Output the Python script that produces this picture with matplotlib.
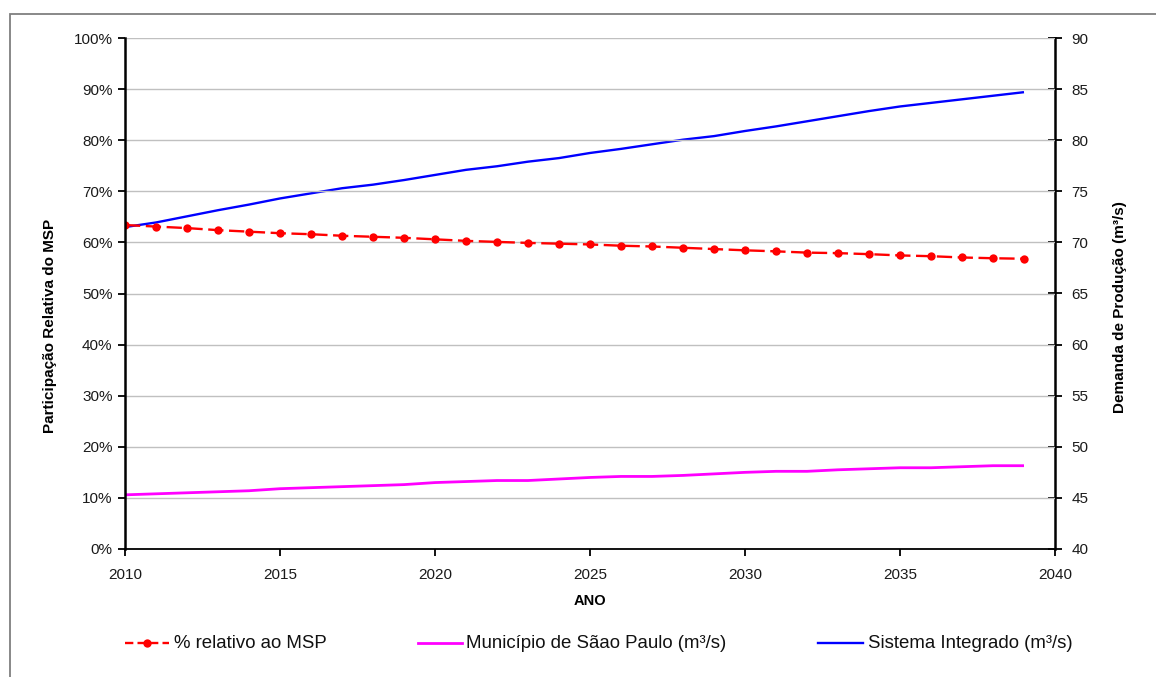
import matplotlib
matplotlib.use("Agg")
import matplotlib.pyplot as plt
from matplotlib.lines import Line2D
from matplotlib.patches import Rectangle
from matplotlib.ticker import FuncFormatter, MultipleLocator

plt.rcParams['font.family'] = ['Liberation Sans', 'DejaVu Sans']
plt.rcParams['lines.scale_dashes'] = False

years = list(range(2010, 2040))

# % relativo ao MSP (share of the municipality in the integrated system)
share_pct = [63.4, 63.1, 62.8, 62.4, 62.1, 61.8, 61.6, 61.3, 61.1, 60.9,
             60.6, 60.3, 60.1, 59.9, 59.75, 59.6, 59.35, 59.2, 58.95, 58.7,
             58.45, 58.25, 58.0, 57.9, 57.7, 57.45, 57.3, 57.05, 56.9, 56.8]

# Município de São Paulo demand (m³/s)
msp_demand = [45.3, 45.4, 45.5, 45.6, 45.7, 45.9, 46.0, 46.1, 46.2, 46.3,
              46.5, 46.6, 46.7, 46.7, 46.85, 47.0, 47.1, 47.1, 47.2, 47.35,
              47.5, 47.6, 47.6, 47.75, 47.85, 47.95, 47.95, 48.05, 48.15, 48.15]

# Sistema Integrado demand (m³/s)
system_demand = [71.5, 71.95, 72.55, 73.15, 73.7, 74.3, 74.8, 75.3, 75.65, 76.1,
                 76.6, 77.1, 77.45, 77.9, 78.25, 78.75, 79.15, 79.6, 80.05, 80.4,
                 80.9, 81.35, 81.85, 82.35, 82.85, 83.3, 83.65, 84.0, 84.35, 84.7]

legend_labels = ['% relativo ao MSP', 'Município de Sãao Paulo (m³/s)',
                 'Sistema Integrado (m³/s)']

RED = '#ff0000'
MAGENTA = '#ff00ff'
BLUE = '#0000ff'

W, H = 1156, 677
fig = plt.figure(figsize=(W / 100, H / 100), dpi=100)
fig.patch.set_facecolor('white')

# outer frame
fig.add_artist(Rectangle((10 / W, -0.05), 1.2, 1 - 14 / H + 0.05,
                         transform=fig.transFigure, fill=False,
                         edgecolor='#7f7f7f', linewidth=1.3))

ax = fig.add_axes([125 / W, 1 - 549 / H, 930 / W, 511 / H])
ax2 = ax.twinx()

ax.set_zorder(ax2.get_zorder() + 1)
ax.patch.set_visible(False)

ax2.plot(years, msp_demand, color=MAGENTA, lw=2.0, solid_capstyle='butt')
ax2.plot(years, system_demand, color=BLUE, lw=1.7, solid_capstyle='butt')
ax.plot(years, share_pct, color=RED, lw=1.7, dashes=(11, 4),
        marker='o', markersize=6, markeredgewidth=0)

ax.set_xlim(2010, 2040)
ax.set_ylim(0, 100)
ax2.set_ylim(40, 90)

ax.xaxis.set_major_locator(MultipleLocator(5))
ax.yaxis.set_major_locator(MultipleLocator(10))
ax2.yaxis.set_major_locator(MultipleLocator(5))
ax.yaxis.set_major_formatter(FuncFormatter(lambda v, p: f"{int(round(v))}%"))

ax.grid(axis='y', color='#c0c0c0', lw=1)
ax.set_axisbelow(True)

for a in (ax, ax2):
    a.spines['top'].set_visible(False)
ax.spines['left'].set_linewidth(1.8)
ax.spines['bottom'].set_linewidth(1.3)
ax2.spines['right'].set_linewidth(1.8)
ax.spines['right'].set_visible(False)
ax2.spines['left'].set_visible(False)
ax2.spines['bottom'].set_visible(False)

ax.tick_params(axis='y', direction='out', length=5, width=1.3, labelsize=11,
               colors='black', labelcolor='#1a1a1a', pad=4)
ax.tick_params(axis='x', direction='out', length=5, width=1.3, labelsize=11,
               labelcolor='#1a1a1a', pad=8.5)
ax2.tick_params(axis='y', direction='inout', length=10, width=1.3, labelsize=11,
                labelcolor='#1a1a1a', pad=7)

ax.set_ylabel('Participação Relativa do MSP', fontsize=11, fontweight='bold')
ax.yaxis.set_label_coords(-0.073, 0.436)
ax2.set_ylabel('Demanda de Produção (m³/s)', fontsize=11, fontweight='bold')
ax2.yaxis.set_label_coords(1.0625, 0.474)
ax.set_xlabel('ANO', fontsize=10.5, fontweight='bold')
ax.xaxis.set_label_coords(0.5, -0.088)

# legend row
ly = 1 - 643 / H
entries = [
    (125, 169, 174, RED, dict(lw=1.7, marker='o', markersize=6,
                              markeredgewidth=0, markevery=[1],
                              dashes=(6, 3))),
    (418, 462, 466, MAGENTA, dict(lw=2.0)),
    (818, 863, 868, BLUE, dict(lw=1.7)),
]
for (x0, x1, xt, col, kw), lab in zip(entries, legend_labels):
    xs = [x0 / W, (x0 + x1) / 2 / W, x1 / W]
    fig.add_artist(Line2D(xs, [ly] * 3, color=col,
                          transform=fig.transFigure, **kw))
    fig.text(xt / W, ly, lab, fontsize=13.4, va='center', ha='left',
             color='#111111')

fig.savefig('out.png', dpi=100, facecolor='white')
